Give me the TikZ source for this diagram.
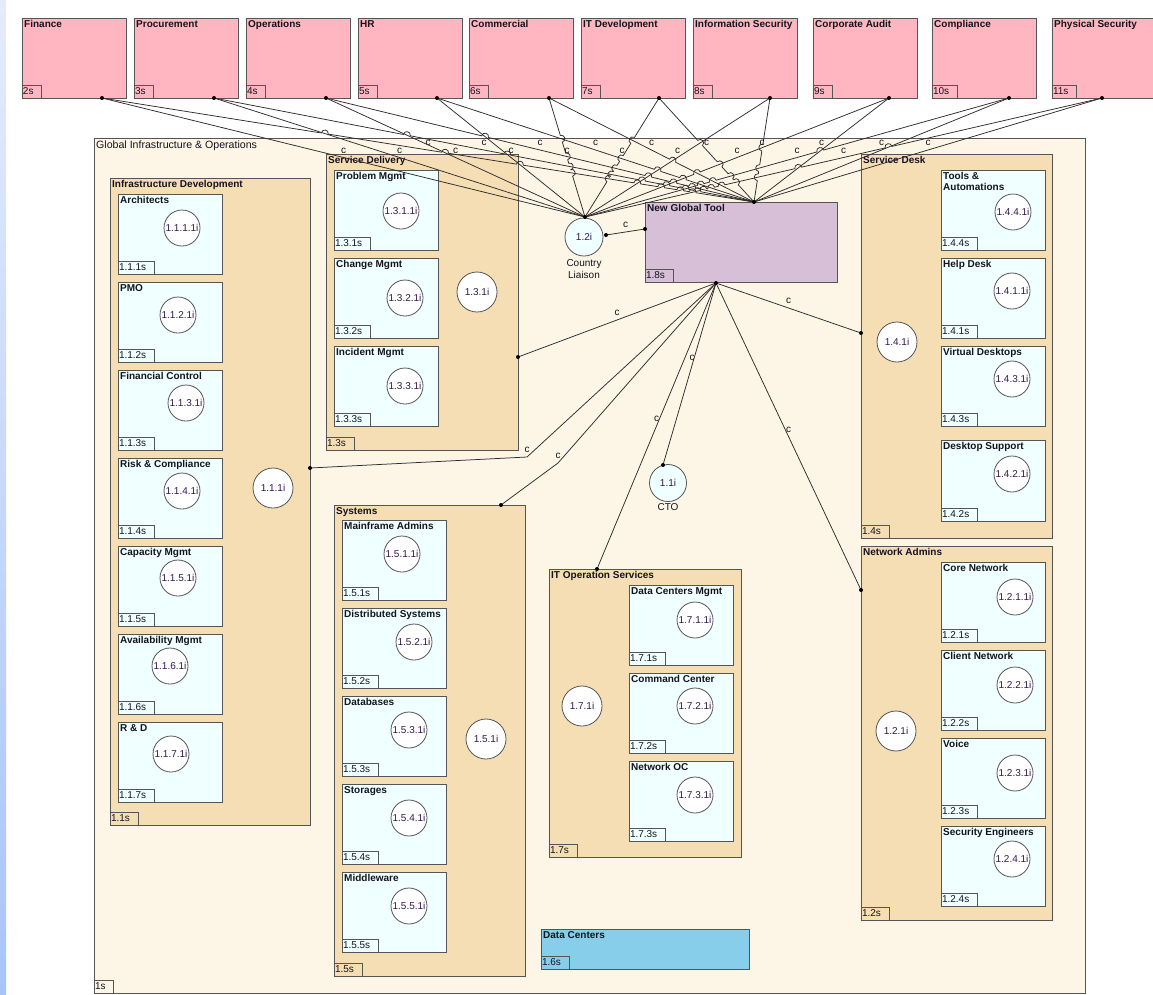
\documentclass[tikz,border=0pt]{standalone}
\usepackage{fontspec}
\setmainfont{Liberation Sans}
\usetikzlibrary{calc}

\definecolor{pinkbox}{RGB}{255,182,193}
\definecolor{outerbg}{RGB}{253,245,230}
\definecolor{tanbox}{RGB}{245,222,179}
\definecolor{cyanbox}{RGB}{240,255,255}
\definecolor{toolbox}{RGB}{216,191,216}
\definecolor{dcbox}{RGB}{135,206,235}
\definecolor{edge}{RGB}{85,85,85}
\definecolor{wire}{RGB}{45,45,45}
\definecolor{ink}{RGB}{20,20,30}
\definecolor{numink}{RGB}{50,25,80}
\definecolor{stripA}{RGB}{228,235,252}
\definecolor{stripB}{RGB}{168,196,250}

\tikzset{
  unitbox/.style={draw=edge, line width=0.8pt, inner sep=0pt, outer sep=0pt, anchor=north west},
  ttl/.style={font=\bfseries\fontsize{10}{11}\selectfont, text=ink, anchor=north west, inner sep=0pt, align=left},
  tagb/.style={draw=edge, line width=0.8pt, font=\fontsize{10}{11}\selectfont, text=ink, anchor=south west,
    inner xsep=1pt, inner ysep=0pt, minimum height=13pt, outer sep=0pt},
  ucirc/.style={circle, draw=edge, line width=0.8pt, fill=white, minimum size=36pt, inner sep=0pt,
    font=\fontsize{10}{11}\selectfont, text=numink},
  bigc/.style={ucirc, minimum size=40pt},
  conn/.style={draw=wire, line width=0.75pt},
  clab/.style={font=\fontsize{10}{11}\selectfont, text=ink, inner sep=1pt},
  caption/.style={font=\fontsize{10}{12}\selectfont, text=ink, align=center, inner sep=0pt, anchor=north},
}

% box with title and id tag: name, x1, y1, x2, y2, fill, title, tag
\newcommand\orgbox[8]{%
  \node[unitbox, fill=#6, minimum width={#4-#2}, minimum height={#5-#3}] (#1) at (#2,#3) {};
  \node[ttl] at ({#2+2},{#3+2.5}) {#7};
  \node[tagb] at (#1.south west) {#8\hspace*{7pt}};
}

% department links: x of each source, targets Country Liaison / New Global Tool
\def\SXarr{{102,214,326,437,549,659,770,889,1009,1102}}
\newcommand\hopr{3.5}
\newcommand\setline[2]{%
  \pgfmathtruncatemacro\LDs{floor(#1/2)}%
  \pgfmathtruncatemacro\LDt{mod(#1,2)}%
  \pgfmathsetmacro\LDax{\SXarr[\LDs]}%
  \ifnum\LDt=0 \def\LDbx{585}\def\LDby{217}\else\def\LDbx{754}\def\LDby{202}\fi
  \pgfmathsetmacro\LDrx{(\LDbx-\LDax)/100}%
  \pgfmathsetmacro\LDry{(\LDby-98)/100}%
  \pgfmathsetmacro\LDang{atan2(abs(\LDry),abs(\LDrx))}%
  \expandafter\edef\csname #2ax\endcsname{\LDax}%
  \expandafter\edef\csname #2s\endcsname{\LDs}%
  \expandafter\edef\csname #2t\endcsname{\LDt}%
  \expandafter\edef\csname #2rx\endcsname{\LDrx}%
  \expandafter\edef\csname #2ry\endcsname{\LDry}%
  \expandafter\edef\csname #2ang\endcsname{\LDang}%
}

\begin{document}
\begin{tikzpicture}[x=1pt,y=-1pt]
\useasboundingbox (0,0) rectangle (1153,994);
\fill[white] (0,0) rectangle (1153,994);
\shade[top color=stripA,bottom color=stripB] (0,0) rectangle (6,994);

% departments
\orgbox{fin}{22}{18}{126}{98}{pinkbox}{Finance}{2s}
\orgbox{proc}{134}{18}{238}{98}{pinkbox}{Procurement}{3s}
\orgbox{oper}{246}{18}{350}{98}{pinkbox}{Operations}{4s}
\orgbox{hr}{358}{18}{462}{98}{pinkbox}{HR}{5s}
\orgbox{comm}{469}{18}{573}{98}{pinkbox}{Commercial}{6s}
\orgbox{itdev}{581}{18}{685}{98}{pinkbox}{IT Development}{7s}
\orgbox{isec}{693}{18}{797}{98}{pinkbox}{Information Security}{8s}
\orgbox{audit}{813}{18}{917}{98}{pinkbox}{Corporate Audit}{9s}
\orgbox{compl}{932}{18}{1036}{98}{pinkbox}{Compliance}{10s}
\orgbox{phys}{1052}{18}{1160}{98}{pinkbox}{Physical Security}{11s}

% global infrastructure & operations
\orgbox{gio}{94}{138}{1085}{993}{outerbg}{\mdseries\fontsize{10.6}{12}\selectfont Global Infrastructure \& Operations}{1s}

% infrastructure development
\orgbox{infdev}{110}{178}{310}{825}{tanbox}{Infrastructure Development}{1.1s}
\orgbox{arch}{118}{194}{222}{274}{cyanbox}{Architects}{1.1.1s}
\orgbox{pmo}{118}{282}{222}{362}{cyanbox}{PMO}{1.1.2s}
\orgbox{finctl}{118}{370}{222}{450}{cyanbox}{Financial Control}{1.1.3s}
\orgbox{risk}{118}{458}{222}{538}{cyanbox}{Risk \& Compliance}{1.1.4s}
\orgbox{capm}{118}{546}{222}{626}{cyanbox}{Capacity Mgmt}{1.1.5s}
\orgbox{avail}{118}{634}{222}{714}{cyanbox}{Availability Mgmt}{1.1.6s}
\orgbox{rnd}{118}{722}{222}{802}{cyanbox}{R \& D}{1.1.7s}
\node[ucirc] (p1111) at (182,228) {1.1.1.1i};
\node[ucirc] (p1121) at (178,315) {1.1.2.1i};
\node[ucirc] (p1131) at (186,403) {1.1.3.1i};
\node[ucirc] (p1141) at (182,491) {1.1.4.1i};
\node[ucirc] (p1151) at (178,578) {1.1.5.1i};
\node[ucirc] (p1161) at (170,666) {1.1.6.1i};
\node[ucirc] (p1171) at (171,754) {1.1.7.1i};
\node[bigc] (p111) at (273,488) {1.1.1i};

% service delivery
\orgbox{sdel}{326}{154}{518}{450}{tanbox}{Service Delivery}{1.3s}
\orgbox{prob}{334}{170}{438}{250}{cyanbox}{Problem Mgmt}{1.3.1s}
\orgbox{chg}{334}{258}{438}{338}{cyanbox}{Change Mgmt}{1.3.2s}
\orgbox{inc}{334}{346}{438}{426}{cyanbox}{Incident Mgmt}{1.3.3s}
\node[ucirc] (p1311) at (401,211) {1.3.1.1i};
\node[ucirc] (p1321) at (405,298) {1.3.2.1i};
\node[ucirc] (p1331) at (405,386) {1.3.3.1i};
\node[bigc] (p131) at (477,292) {1.3.1i};

% new global tool, country liaison, CTO
\orgbox{gt}{645}{202}{837}{282}{toolbox}{New Global Tool}{1.8s}
\node[ucirc, fill=cyanbox, minimum size=38pt] (cl) at (584,237) {1.2i};
\node[caption] (cltxt) at (584,259) {Country\\Liaison};
\node[ucirc, fill=cyanbox, minimum size=37pt] (cto) at (668,483) {1.1i};
\node[caption] (ctotxt) at (668,503) {CTO};

% service desk
\orgbox{sdesk}{861}{154}{1052}{538}{tanbox}{Service Desk}{1.4s}
\orgbox{tools}{941}{170}{1045}{250}{cyanbox}{Tools \&\\Automations}{1.4.4s}
\orgbox{help}{941}{258}{1045}{338}{cyanbox}{Help Desk}{1.4.1s}
\orgbox{vdesk}{941}{346}{1045}{426}{cyanbox}{Virtual Desktops}{1.4.3s}
\orgbox{dsup}{941}{440}{1045}{521}{cyanbox}{Desktop Support}{1.4.2s}
\node[ucirc] (p1441) at (1013,212) {1.4.4.1i};
\node[ucirc] (p1411) at (1012,291) {1.4.1.1i};
\node[ucirc] (p1431) at (1012,379) {1.4.3.1i};
\node[ucirc] (p1421) at (1012,474) {1.4.2.1i};
\node[bigc] (p141) at (897,342) {1.4.1i};

% network admins
\orgbox{netad}{861}{546}{1052}{920}{tanbox}{Network Admins}{1.2s}
\orgbox{core}{941}{562}{1045}{642}{cyanbox}{Core Network}{1.2.1s}
\orgbox{client}{941}{650}{1045}{730}{cyanbox}{Client Network}{1.2.2s}
\orgbox{voice}{941}{738}{1045}{818}{cyanbox}{Voice}{1.2.3s}
\orgbox{seceng}{941}{826}{1045}{906}{cyanbox}{Security Engineers}{1.2.4s}
\node[ucirc] (p1211) at (1015,597) {1.2.1.1i};
\node[ucirc] (p1221) at (1015,685) {1.2.2.1i};
\node[ucirc] (p1231) at (1015,773) {1.2.3.1i};
\node[ucirc] (p1241) at (1012,859) {1.2.4.1i};
\node[bigc] (p121) at (896,731) {1.2.1i};

% systems
\orgbox{sys}{334}{505}{525}{976}{tanbox}{Systems}{1.5s}
\orgbox{mframe}{342}{520}{446}{600}{cyanbox}{Mainframe Admins}{1.5.1s}
\orgbox{dist}{342}{608}{446}{688}{cyanbox}{Distributed Systems}{1.5.2s}
\orgbox{dbs}{342}{696}{446}{776}{cyanbox}{Databases}{1.5.3s}
\orgbox{stor}{342}{784}{446}{864}{cyanbox}{Storages}{1.5.4s}
\orgbox{mware}{342}{872}{446}{952}{cyanbox}{Middleware}{1.5.5s}
\node[ucirc] (p1511) at (402,554) {1.5.1.1i};
\node[ucirc] (p1521) at (414,642) {1.5.2.1i};
\node[ucirc] (p1531) at (409,730) {1.5.3.1i};
\node[ucirc] (p1541) at (409,818) {1.5.4.1i};
\node[ucirc] (p1551) at (409,906) {1.5.5.1i};
\node[bigc] (p151) at (486,739) {1.5.1i};

% IT operation services
\orgbox{itops}{549}{569}{741}{857}{tanbox}{IT Operation Services}{1.7s}
\orgbox{dcm}{629}{585}{733}{665}{cyanbox}{Data Centers Mgmt}{1.7.1s}
\orgbox{cmdc}{629}{673}{733}{753}{cyanbox}{Command Center}{1.7.2s}
\orgbox{noc}{629}{761}{733}{841}{cyanbox}{Network OC}{1.7.3s}
\node[ucirc] (p1711) at (695,620) {1.7.1.1i};
\node[ucirc] (p1721) at (695,706) {1.7.2.1i};
\node[ucirc] (p1731) at (695,795) {1.7.3.1i};
\node[bigc] (p171) at (582,706) {1.7.1i};

% data centers
\orgbox{dc}{541}{929}{749}{969}{dcbox}{Data Centers}{1.6s}

% connector end points
\foreach \x [count=\k from 0] in {102,214,326,437,549,659,770,889,1009,1102}
  \coordinate (s\k) at (\x,98);
\coordinate (cl-in) at (585,217);
\coordinate (gt-in) at (754,202);
\coordinate (gt-out) at (716,283);
\coordinate (cl-out) at (606,235);
\coordinate (gt-side) at (645,229);
\coordinate (sdel-in) at (518,357);
\coordinate (inf-in) at (310,468);
\coordinate (inf-bend) at (527,457);
\coordinate (sys-in) at (501,505);
\coordinate (sys-bend) at (558,463);
\coordinate (ops-in) at (597,569);
\coordinate (cto-in) at (663,465);
\coordinate (na-in) at (861,590);
\coordinate (sdesk-in) at (861,333);

% department links with line jumps at crossings
\foreach \i in {0,...,19}{
  \setline{\i}{I}
  \gdef\hopclip{}\gdef\hoparcs{}
  \foreach \j in {0,...,19}{
    \setline{\j}{J}
    \ifnum\Is=\Js\relax\else
      \pgfmathsetmacro\den{\Irx*\Jry-\Iry*\Jrx}
      \pgfmathtruncatemacro\okden{abs(\den)>0.0005}
      \ifnum\okden=1
        \pgfmathsetmacro\qx{(\Jax-\Iax)/100}
        \pgfmathsetmacro\tpar{\qx*\Jry/\den}
        \pgfmathsetmacro\upar{\qx*\Iry/\den}
        \pgfmathtruncatemacro\hit{(\tpar>0.02)&&(\tpar<0.98)&&(\upar>0.02)&&(\upar<0.98)}
        \ifnum\hit=1
          \pgfmathtruncatemacro\mine{((\Iang>45)||(\Jang>45)) ? (\Iang>\Jang) : (\Iang<\Jang)}
          \ifnum\mine=1
            \pgfmathsetmacro\len{veclen(\Irx,\Iry)}
            \pgfmathsetmacro\ux{\Irx/\len}
            \pgfmathsetmacro\uy{\Iry/\len}
            \pgfmathsetmacro\nx{(\ux>=0) ? \uy : -1*(\uy)}
            \pgfmathsetmacro\ny{(\ux>=0) ? -1*(\ux) : \ux}
            \pgfmathsetmacro\px{\Iax+100*\tpar*\Irx}
            \pgfmathsetmacro\py{98+100*\tpar*\Iry}
            \pgfmathsetmacro\Ax{\px-\hopr*\ux}
            \pgfmathsetmacro\Ay{\py-\hopr*\uy}
            \pgfmathsetmacro\Bx{\px+\hopr*\ux}
            \pgfmathsetmacro\By{\py+\hopr*\uy}
            \pgfmathsetmacro\Cax{\Ax+1.333*\hopr*\nx}
            \pgfmathsetmacro\Cay{\Ay+1.333*\hopr*\ny}
            \pgfmathsetmacro\Cbx{\Bx+1.333*\hopr*\nx}
            \pgfmathsetmacro\Cby{\By+1.333*\hopr*\ny}
            \xdef\hopclip{\hopclip (\px,\py) circle[radius=\hopr]}
            \xdef\hoparcs{\hoparcs (\Ax,\Ay) .. controls (\Cax,\Cay) and (\Cbx,\Cby) .. (\Bx,\By)}
          \fi
        \fi
      \fi
    \fi
  }
  \ifnum\It=0 \def\tgt{cl-in}\else\def\tgt{gt-in}\fi
  \begin{scope}[even odd rule]
    \edef\doclip{\noexpand\clip (-50,-50) rectangle (1250,1100) \hopclip;}
    \doclip
    \draw[conn] (s\Is) -- (\tgt);
  \end{scope}
  \ifx\hoparcs\empty\else
    \edef\doarcs{\noexpand\draw[conn] \hoparcs;}\doarcs
  \fi
  \path (s\Is) -- (\tgt) node[midway, clab, above=3pt] {c};
}

% links of the new global tool
\draw[conn] (cl-out) -- (gt-side) node[midway, clab, above=3pt] {c};
\draw[conn] (gt-out) -- (sdel-in) node[midway, clab, above=3pt] {c};
\draw[conn] (gt-out) -- (sdesk-in) node[midway, clab, above=3pt] {c};
\draw[conn] (gt-out) -- (na-in) node[midway, clab, above=3pt] {c};
\draw[conn] (gt-out) -- (cto-in) node[pos=0.45, clab, above=3pt] {c};
\draw[conn] (gt-out) -- (ops-in) node[midway, clab, above=3pt] {c};
\draw[conn] (sys-in) -- (sys-bend) node[clab, above=3pt] {c} -- (gt-out);
\draw[conn] (inf-in) -- (inf-bend) node[clab, above=3pt] {c} -- (gt-out);

% connection dots
\foreach \p in {s0,s1,s2,s3,s4,s5,s6,s7,s8,s9,cl-in,gt-in,gt-out,cl-out,gt-side,
                sdel-in,inf-in,sys-in,ops-in,na-in,sdesk-in,cto-in}
  \fill[black] (\p) circle (2);
\end{tikzpicture}
\end{document}
